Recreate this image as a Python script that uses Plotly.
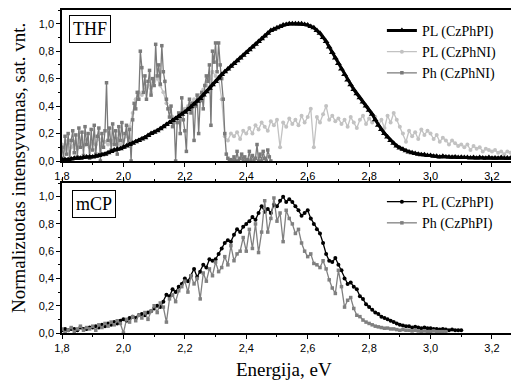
import plotly.graph_objects as go

# ---------------- data ----------------
# THF panel, PL (CzPhPI): energies 1.80 .. 3.29 eV, step 0.01
THF_PL_PI_START, THF_PL_PI_STEP = 1.80, 0.01
THF_PL_PI = [
    0.01, 0.01, 0.01, 0.015, 0.02, 0.02, 0.02, 0.025, 0.03, 0.03,
    0.03, 0.035, 0.04, 0.045, 0.05, 0.06, 0.07, 0.08, 0.085, 0.09,
    0.10, 0.11, 0.12, 0.13, 0.14, 0.15, 0.16, 0.17, 0.185, 0.20,
    0.21, 0.22, 0.235, 0.25, 0.265, 0.28, 0.295, 0.31, 0.325, 0.34,
    0.355, 0.375, 0.395, 0.415, 0.435, 0.455, 0.48, 0.505, 0.53, 0.555,
    0.58, 0.605, 0.63, 0.65, 0.67, 0.69, 0.71, 0.73, 0.75, 0.77,
    0.79, 0.81, 0.83, 0.85, 0.87, 0.89, 0.91, 0.93, 0.95, 0.96,
    0.97, 0.98, 0.99, 0.995, 1.0, 1.0, 1.0, 1.0, 1.0, 0.995,
    0.99, 0.98, 0.97, 0.95, 0.93, 0.90, 0.87, 0.83, 0.79, 0.75,
    0.71, 0.67, 0.63, 0.59, 0.555, 0.52, 0.49, 0.46, 0.43, 0.40,
    0.37, 0.34, 0.30, 0.26, 0.23, 0.20, 0.175, 0.15, 0.13, 0.11,
    0.095, 0.085, 0.075, 0.065, 0.06, 0.055, 0.05, 0.045, 0.045, 0.04,
    0.04, 0.035, 0.035, 0.03, 0.035, 0.03, 0.03, 0.028, 0.03, 0.025,
    0.028, 0.025, 0.025, 0.022, 0.025, 0.02, 0.025, 0.022, 0.02, 0.025,
    0.02, 0.022, 0.02, 0.025, 0.02, 0.022, 0.02, 0.025, 0.022, 0.02,
]

# THF panel, PL (CzPhNI): energies 1.80 .. 3.29 eV, step 0.01
THF_PL_NI_START, THF_PL_NI_STEP = 1.80, 0.01
THF_PL_NI = [
    0.12, 0.08, 0.15, 0.10, 0.14, 0.09, 0.13, 0.11, 0.15, 0.10, 0.13,
    0.12, 0.16, 0.11, 0.14, 0.12, 0.15, 0.13, 0.16, 0.12, 0.15,
    0.18, 0.25, 0.35, 0.45, 0.50, 0.48, 0.52, 0.55, 0.50, 0.58,
    0.60, 0.55, 0.50, 0.42, 0.38, 0.32, 0.30, 0.33, 0.35, 0.38,
    0.40, 0.42, 0.45, 0.44, 0.48, 0.52, 0.55, 0.60, 0.65, 0.62,
    0.60, 0.45, 0.18, 0.15, 0.20, 0.18, 0.21, 0.16, 0.22, 0.20,
    0.24, 0.20, 0.26, 0.23, 0.28, 0.25, 0.22, 0.29, 0.26, 0.30,
    0.10, 0.28, 0.25, 0.31, 0.27, 0.30, 0.26, 0.33, 0.28, 0.32,
    0.38, 0.10, 0.32, 0.28, 0.34, 0.40, 0.30, 0.33, 0.29, 0.31,
    0.27, 0.30, 0.25, 0.32, 0.28, 0.24, 0.30, 0.33, 0.27, 0.31,
    0.28, 0.32, 0.26, 0.30, 0.24, 0.33, 0.28, 0.35, 0.30, 0.25,
    0.20, 0.14, 0.22, 0.18, 0.21, 0.16, 0.23, 0.19, 0.22, 0.20,
    0.16, 0.19, 0.14, 0.17, 0.15, 0.12, 0.15, 0.13, 0.11, 0.12,
    0.10, 0.12, 0.08, 0.11, 0.09, 0.10, 0.07, 0.09, 0.08, 0.07,
    0.08, 0.06, 0.07, 0.05, 0.07, 0.06, 0.08, 0.07, 0.09,
]

# THF panel, Ph (CzPhNI): energies 1.800 .. 2.480 eV, step 0.005
THF_PH_NI_START, THF_PH_NI_STEP = 1.80, 0.005
THF_PH_NI = [
    0.10, 0.02, 0.18, 0.05, 0.20, 0.00, 0.15, 0.22, 0.06, 0.19,
    0.03, 0.24, 0.10, 0.21, 0.04, 0.25, 0.12, 0.20, 0.02, 0.23,
    0.08, 0.26, 0.05, 0.18, 0.24, 0.00, 0.20, 0.10, 0.22, 0.57,
    0.15, 0.24, 0.08, 0.27, 0.12, 0.22, 0.05, 0.25, 0.15, 0.28,
    0.10, 0.20, 0.26, 0.12, 0.23, 0.00,
    0.30, 0.42, 0.38, 0.50, 0.45, 0.80, 0.68,
    0.50, 0.62, 0.45, 0.58, 0.66, 0.48, 0.60, 0.55,
    0.85, 0.62, 0.70, 0.56, 0.84, 0.65, 0.58, 0.45,
    0.38, 0.32, 0.40, 0.25, 0.30, 0.00, 0.28, 0.35, 0.20, 0.46, 0.30, 0.22,
    0.07, 0.38, 0.45, 0.35, 0.42, 0.15, 0.40, 0.48, 0.20, 0.44, 0.50, 0.38,
    0.55, 0.62, 0.58, 0.70, 0.26, 0.80, 0.72, 0.86, 0.65, 0.86, 0.70, 0.60,
    0.45, 0.20, 0.05, 0.02, 0.00,
    0.01, 0.00, 0.03, 0.00, 0.07, 0.00, 0.02, 0.05, 0.00, 0.03,
    0.00, 0.01, 0.07, 0.00, 0.04, 0.00, 0.02, 0.12, 0.00, 0.05,
    0.00, 0.07, 0.02, 0.00, 0.08, 0.03, 0.00,
]

# mCP panel, PL (CzPhPI): energies 1.80 .. 3.10 eV, step 0.01
MCP_PL_PI_START, MCP_PL_PI_STEP = 1.80, 0.01
MCP_PL_PI = [
    0.02, 0.03, 0.02, 0.03, 0.03, 0.02, 0.04, 0.03, 0.03, 0.04,
    0.04, 0.05, 0.04, 0.06, 0.05, 0.07, 0.06, 0.08, 0.07, 0.09,
    0.10, 0.09, 0.11, 0.12, 0.11, 0.13, 0.14, 0.13, 0.15, 0.16,
    0.18, 0.20, 0.19, 0.23, 0.28, 0.27, 0.32, 0.30, 0.34, 0.36,
    0.40, 0.38, 0.42, 0.47, 0.41, 0.45, 0.50, 0.48, 0.54, 0.53,
    0.54, 0.58, 0.62, 0.66, 0.68, 0.67, 0.72, 0.76, 0.74, 0.78,
    0.80, 0.82, 0.85, 0.83, 0.88, 0.93, 0.89, 0.91, 0.88, 0.94,
    0.93, 0.97, 1.00, 0.96, 0.98, 0.96, 0.93, 0.90, 0.86, 0.88,
    0.90, 0.84, 0.80, 0.76, 0.73, 0.66, 0.58, 0.53, 0.52, 0.55,
    0.50, 0.46, 0.40, 0.36, 0.37, 0.34, 0.32, 0.27, 0.25, 0.21,
    0.19, 0.17, 0.15, 0.14, 0.12, 0.11, 0.10, 0.09, 0.08, 0.07,
    0.06, 0.055, 0.05, 0.05, 0.04, 0.045, 0.04, 0.035, 0.04, 0.035,
    0.035, 0.03, 0.03, 0.025, 0.03, 0.025, 0.02, 0.025, 0.02, 0.02,
    0.02,
]

# mCP panel, Ph (CzPhPI): energies 1.80 .. 3.05 eV, step 0.01
MCP_PH_PI_START, MCP_PH_PI_STEP = 1.80, 0.01
MCP_PH_PI = [
    0.03, 0.00, 0.02, 0.04, 0.01, 0.03, 0.05, 0.02, 0.04, 0.03,
    0.05, 0.02, 0.06, 0.04, 0.07, 0.05, 0.08, 0.06, 0.09, 0.07,
    0.00, 0.10, 0.08, 0.12, 0.09, 0.13, 0.11, 0.15, 0.10, 0.16,
    0.20, 0.15, 0.22, 0.19, 0.08, 0.25, 0.28, 0.23, 0.31, 0.34,
    0.38, 0.30, 0.42, 0.36, 0.40, 0.25, 0.44, 0.38, 0.47, 0.42,
    0.52, 0.45, 0.48, 0.56, 0.50, 0.64, 0.53, 0.58, 0.60, 0.70,
    0.60, 0.76, 0.62, 0.80, 0.59, 0.74, 0.97, 0.74, 0.84, 0.99,
    0.82, 0.88, 0.67, 0.90, 0.84, 0.80, 0.73, 0.76, 0.66, 0.60,
    0.56, 0.58, 0.51, 0.50, 0.48, 0.53, 0.47, 0.39, 0.33, 0.29,
    0.46, 0.34, 0.19, 0.24, 0.26, 0.18, 0.13, 0.12, 0.095, 0.08,
    0.07, 0.06, 0.05, 0.045, 0.04, 0.035, 0.036, 0.03, 0.03, 0.025,
    0.02, 0.025, 0.02, 0.02, 0.015, 0.02, 0.015, 0.01, 0.015, 0.01,
    0.01, 0.015, 0.01, 0.01, 0.01, 0.01,
]

X_TICKS = [1.8, 2.0, 2.2, 2.4, 2.6, 2.8, 3.0, 3.2]
Y_TICKS = [0.0, 0.2, 0.4, 0.6, 0.8, 1.0]


def energies(start, step, values):
    return [round(start + i * step, 4) for i in range(len(values))]


BLACK = "#000000"
LIGHT = "#c2c2c2"
DARK = "#7a7a7a"
SERIF = "Liberation Serif, Times New Roman, serif"
SANS = "Liberation Sans, Arial, sans-serif"

fig = go.Figure()

# ---- top panel (THF) ----
fig.add_trace(go.Scatter(
    x=energies(THF_PL_NI_START, THF_PL_NI_STEP, THF_PL_NI), y=THF_PL_NI,
    mode="lines+markers", name="PL (CzPhNI)", legend="legend", legendrank=2,
    line=dict(color=LIGHT, width=1.3), marker=dict(symbol="circle", size=4, color=LIGHT),
    xaxis="x", yaxis="y"))
fig.add_trace(go.Scatter(
    x=energies(THF_PH_NI_START, THF_PH_NI_STEP, THF_PH_NI), y=THF_PH_NI,
    mode="lines+markers", name="Ph (CzPhNI)", legend="legend", legendrank=3,
    line=dict(color=DARK, width=1.3), marker=dict(symbol="square", size=3.5, color=DARK),
    xaxis="x", yaxis="y"))
fig.add_trace(go.Scatter(
    x=energies(THF_PL_PI_START, THF_PL_PI_STEP, THF_PL_PI), y=THF_PL_PI,
    mode="lines+markers", name="PL (CzPhPI)", legend="legend", legendrank=1,
    line=dict(color=BLACK, width=3), marker=dict(symbol="triangle-up", size=6, color=BLACK),
    xaxis="x", yaxis="y"))

# ---- bottom panel (mCP) ----
fig.add_trace(go.Scatter(
    x=energies(MCP_PL_PI_START, MCP_PL_PI_STEP, MCP_PL_PI), y=MCP_PL_PI,
    mode="lines+markers", name="PL (CzPhPI)", legend="legend2", legendrank=1,
    line=dict(color=BLACK, width=1.3), marker=dict(symbol="circle", size=4, color=BLACK),
    xaxis="x2", yaxis="y2"))
fig.add_trace(go.Scatter(
    x=energies(MCP_PH_PI_START, MCP_PH_PI_STEP, MCP_PH_PI), y=MCP_PH_PI,
    mode="lines+markers", name="Ph (CzPhPI)", legend="legend2", legendrank=2,
    line=dict(color="#808080", width=1.3), marker=dict(symbol="square", size=3.5, color="#808080"),
    xaxis="x2", yaxis="y2"))

XR = [1.8, 3.288]
YR = [0.0, 1.1]
H_TOP = [172 / 323, 1.0]
H_BOT = [0.0, 150 / 323]

common_x = dict(
    range=XR, tickvals=X_TICKS, tickformat=".1f", ticks="outside", ticklen=4,
    tickwidth=1, tickcolor=BLACK, showline=True, linecolor=BLACK, linewidth=1.5,
    showgrid=False, zeroline=False, tickfont=dict(family=SANS, size=11, color=BLACK),
    minor=dict(dtick=0.1, tick0=1.8, ticks="outside", ticklen=2.5, tickcolor=BLACK),
)
common_y = dict(
    range=YR, tickvals=Y_TICKS, tickformat=".1f", ticks="outside", ticklen=4,
    tickwidth=1, tickcolor=BLACK, showline=True, linecolor=BLACK, linewidth=1.5,
    showgrid=False, zeroline=False, tickfont=dict(family=SANS, size=11, color=BLACK),
    minor=dict(dtick=0.1, tick0=0, ticks="outside", ticklen=2.5, tickcolor=BLACK),
    mirror=False,
)

# the page body has an 8 px default margin, so the figure is drawn 8 px
# right/down; size and margins compensate so the plot lands as in the reference
fig.update_layout(
    width=511, height=376,
    margin=dict(l=54, r=0, t=2, b=51),
    paper_bgcolor="white", plot_bgcolor="white",
    separators=", ",
    xaxis=dict(domain=[0, 1], anchor="y", mirror=True, **common_x),
    yaxis=dict(domain=H_TOP, anchor="x", **common_y),
    xaxis2=dict(domain=[0, 1], anchor="y2", mirror="ticks", **common_x),
    yaxis2=dict(domain=H_BOT, anchor="x2", **common_y),
    legend=dict(x=0.70, y=0.985, xanchor="left", yanchor="top",
                bgcolor="rgba(0,0,0,0)", font=dict(family=SERIF, size=14, color=BLACK),
                tracegroupgap=0, itemwidth=30),
    legend2=dict(x=0.70, y=0.455, xanchor="left", yanchor="top",
                 bgcolor="rgba(0,0,0,0)", font=dict(family=SERIF, size=14, color=BLACK),
                 tracegroupgap=0, itemwidth=30),
    annotations=[
        dict(text="THF", xref="paper", yref="paper", x=(69 - 62) / 457, y=(333 - 15) / 323,
             xanchor="left", yanchor="top", showarrow=False,
             font=dict(family=SERIF, size=18, color=BLACK),
             bordercolor=BLACK, borderwidth=1, borderpad=3, bgcolor="white"),
        dict(text="mCP", xref="paper", yref="paper", x=(72 - 62) / 457, y=(333 - 190) / 323,
             xanchor="left", yanchor="top", showarrow=False,
             font=dict(family=SERIF, size=18, color=BLACK),
             bordercolor=BLACK, borderwidth=1, borderpad=3, bgcolor="white"),
        dict(text="Normalizuotas intensyvumas, sat. vnt.", xref="paper", yref="paper",
             x=(18 - 62) / 457, y=(333 - 168) / 323, xanchor="center", yanchor="middle",
             textangle=-90, showarrow=False, font=dict(family=SERIF, size=19, color=BLACK)),
        dict(text="Energija, eV", xref="paper", yref="paper",
             x=(284 - 62) / 457, y=(333 - 369) / 323, xanchor="center", yanchor="middle",
             showarrow=False, font=dict(family=SERIF, size=19, color=BLACK)),
    ],
)

fig.write_html("out.html")
